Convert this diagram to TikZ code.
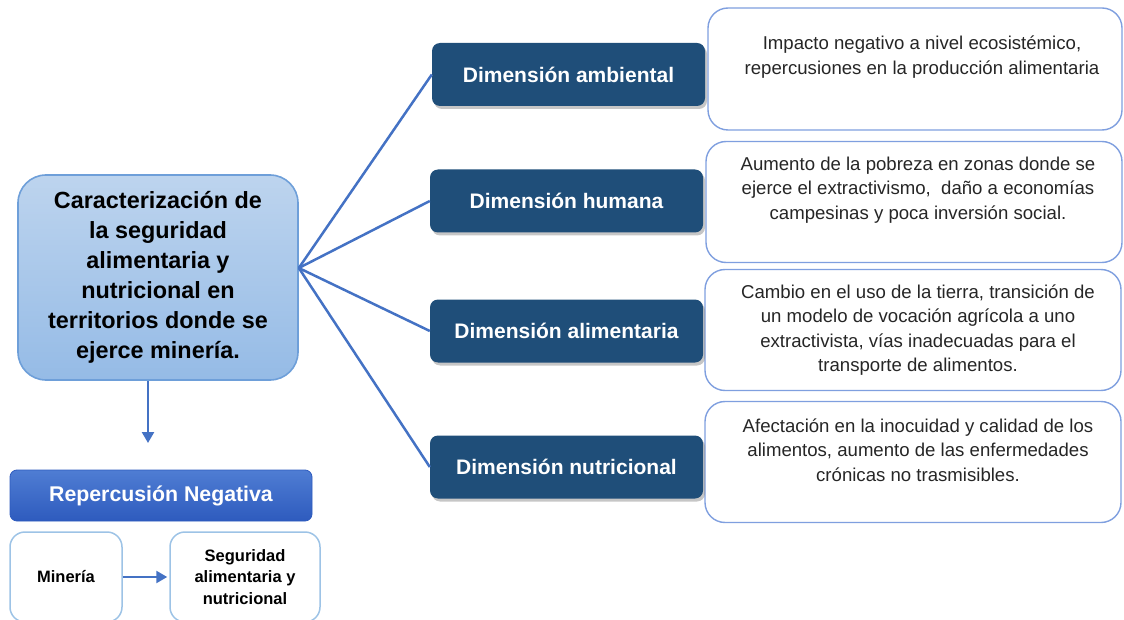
\documentclass[tikz,border=0pt]{standalone}
\usepackage{fontspec}
\setmainfont{Liberation Sans}
\usetikzlibrary{arrows.meta,shadows}

\definecolor{dimblue}{HTML}{1F4E79}
\definecolor{linkblue}{HTML}{4472C4}
\definecolor{descline}{HTML}{7F9FDF}
\definecolor{maintop}{HTML}{BDD4EE}
\definecolor{mainbot}{HTML}{95BBE6}
\definecolor{mainline}{HTML}{6E9FD9}
\definecolor{reptop}{HTML}{4F7DD3}
\definecolor{repbot}{HTML}{2E5BBE}
\definecolor{smallline}{HTML}{9DC3E6}
\definecolor{desctext}{HTML}{262626}

\tikzset{
  dimbox/.style={fill=dimblue, rounded corners=8pt, minimum width=273pt,
    minimum height=63pt, inner sep=0pt, text=white,
    font=\fontsize{21}{25}\selectfont\bfseries,
    drop shadow={opacity=0.45, shadow xshift=2pt, shadow yshift=-3pt}},
  descbox/.style={draw=descline, line width=1.4pt, fill=white,
    rounded corners=20pt, minimum width=416pt, minimum height=121pt, inner sep=0pt},
  desctxt/.style={align=center, text=desctext, inner sep=0pt,
    font=\fontsize{18.6}{24.5}\selectfont},
  link/.style={draw=linkblue, line width=2.5pt},
  tip/.style={-{Triangle[width=12pt,length=11pt]}},
  smallbox/.style={draw=smallline, line width=1.5pt, fill=white, rounded corners=15pt,
    minimum height=90pt, inner sep=0pt, align=center,
    font=\fontsize{16.5}{21.5}\selectfont\bfseries}
}

\begin{document}
\begin{tikzpicture}[x=1pt, y=-1pt]
  \useasboundingbox (0,0) rectangle (1124,620);
  \clip (0,0) rectangle (1124,620);

  % descriptions
  \node[descbox, minimum width=414pt, minimum height=122pt] (descA) at (915,69) {};
  \node[descbox] (descB) at (914,202) {};
  \node[descbox] (descC) at (913,330) {};
  \node[descbox] (descD) at (913,462) {};
  \node[desctxt] (txtA) at (922,57) {Impacto negativo a nivel ecosistémico,\\repercusiones en la producción alimentaria};
  \node[desctxt] (txtB) at (918,190) {Aumento de la pobreza en zonas donde se\\ejerce el extractivismo,\ \ daño a economías\\campesinas y poca inversión social.};
  \node[desctxt] (txtC) at (918,330) {Cambio en el uso de la tierra, transición de\\un modelo de vocación agrícola a uno\\extractivista, vías inadecuadas para el\\transporte de alimentos.};
  \node[desctxt] (txtD) at (918,450) {Afectación en la inocuidad y calidad de los\\alimentos, aumento de las enfermedades\\crónicas no trasmisibles.};

  % main box
  \node[draw=mainline, line width=1.6pt, top color=maintop, bottom color=mainbot,
    rounded corners=28pt, minimum width=280pt, minimum height=205pt, inner sep=0pt,
    align=center, font=\fontsize{23.4}{30}\selectfont\bfseries] (main) at (158,277.5)
    {Caracterización de\\la seguridad\\alimentaria y\\nutricional en\\territorios donde se\\ejerce minería.};

  % dimensions
  \node[dimbox] (dimA) at (568.5,74.5) {Dimensión ambiental};
  \node[dimbox] (dimB) at (566.5,201) {Dimensión humana};
  \node[dimbox] (dimC) at (566.5,331) {Dimensión alimentaria};
  \node[dimbox] (dimD) at (566.5,467) {Dimensión nutricional};

  \draw[link] ([yshift=9.5pt]main.east) -- (dimA.west);
  \draw[link] ([yshift=9.5pt]main.east) -- (dimB.west);
  \draw[link] ([yshift=9.5pt]main.east) -- (dimC.west);
  \draw[link] ([yshift=9.5pt]main.east) -- (dimD.west);

  % bottom part
  \coordinate (downtip) at (148,443);
  \draw[link, tip] ([xshift=-10pt]main.south) -- (downtip);

  \node[draw=repbot, line width=0.8pt, top color=reptop, bottom color=repbot,
    rounded corners=7pt, minimum width=302pt, minimum height=51pt, inner sep=0pt,
    text=white, font=\fontsize{21.3}{25}\selectfont\bfseries] (rep) at (161,495.5)
    {Repercusión Negativa};

  \node[smallbox, minimum width=112pt] (mineria) at (66,577) {Minería};
  \node[smallbox, minimum width=150pt] (seguridad) at (245,577) {Seguridad\\alimentaria y\\nutricional};
  \draw[link, tip] (mineria) -- ([xshift=-2pt]seguridad.west);
\end{tikzpicture}
\end{document}
